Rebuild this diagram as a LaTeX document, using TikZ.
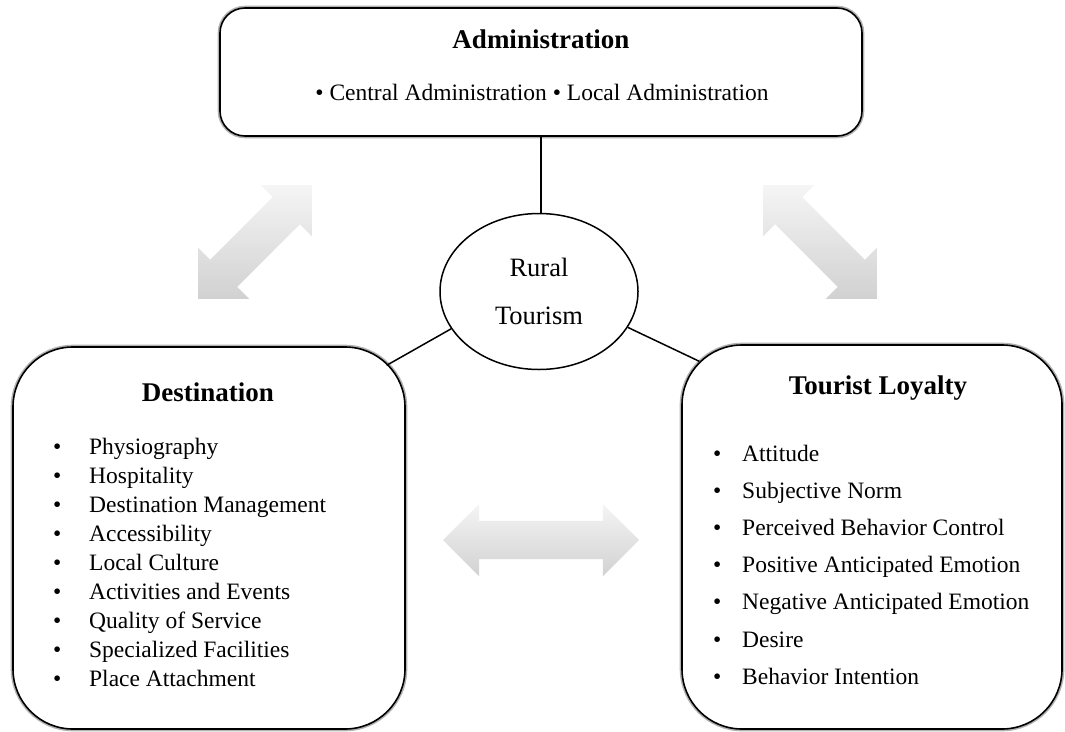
\documentclass[tikz,border=0pt]{standalone}
\usepackage{fontspec}
\setmainfont{Liberation Serif}
\usetikzlibrary{shapes.geometric,shapes.arrows}

\tikzset{
  panel/.style={draw, line width=1.6pt, fill=white, preaction={draw=gray!60, line width=4.6pt}},
  heading/.style={font=\fontsize{27}{32}\selectfont\bfseries, inner sep=0pt, anchor=base},
  entry/.style={font=\fontsize{23.5}{28}\selectfont, inner sep=0pt, anchor=base west},
  link/.style={line width=1.5pt},
  bigarrow/.style={double arrow, double arrow head extend=17pt, inner xsep=0pt, inner ysep=19pt,
    minimum height=#1, top color=gray!8, bottom color=gray!36}
}

\begin{document}
\begin{tikzpicture}[x=1pt,y=-1pt]
\useasboundingbox (0,0) rectangle (1065,731);

\node[bigarrow=161pt, rotate=45] (arrowleft) at (255,242) {};
\node[bigarrow=161pt, rotate=-45] (arrowright) at (820,242) {};
\node[bigarrow=196pt] (arrowmid) at (541,540) {};

\node[panel, rounded corners=25pt, minimum width=642pt, minimum height=128pt] (admin) at (541,72) {};
\node[panel, rounded corners=60pt, minimum width=392pt, minimum height=382pt] (dest) at (209,538) {};
\node[panel, rounded corners=60pt, minimum width=380pt, minimum height=384pt] (loyalty) at (872,537) {};
\node[ellipse, draw, line width=1.5pt, fill=white, minimum width=198pt, minimum height=156pt,
  inner sep=0pt, align=center, font=\fontsize{26.5}{48}\selectfont] (rural) at (539,291.5) {Rural\\Tourism};

\draw[link] (admin.south) -- (admin.south |- rural.north);
\draw[link, shorten >=-22pt] (rural.203) -- (dest.43.5);
\draw[link, shorten >=-20pt] (rural.338) -- (loyalty.136.2);

\node[heading] (admintitle) at (541,48) {Administration};
\node[entry, anchor=base] (adminlist) at (542,100) {\textbullet\ Central Administration \textbullet\ Local Administration};

\node[heading] (desttitle) at (208,401) {Destination};
\foreach \txt [count=\i from 0] in {Physiography, Hospitality, Destination Management, Accessibility,
  Local Culture, Activities and Events, Quality of Service, Specialized Facilities, Place Attachment}
  \node[entry] (dest-\i) at (53,454+29*\i) {\makebox[36pt][l]{\textbullet}\txt};

\node[heading] (loyaltytitle) at (878,394) {Tourist Loyalty};
\foreach \txt [count=\i from 0] in {Attitude, Subjective Norm, Perceived Behavior Control,
  Positive Anticipated Emotion, Negative Anticipated Emotion, Desire, Behavior Intention}
  \node[entry] (loyalty-\i) at (713,461+37.2*\i) {\makebox[29pt][l]{\textbullet}\txt};

\end{tikzpicture}
\end{document}
